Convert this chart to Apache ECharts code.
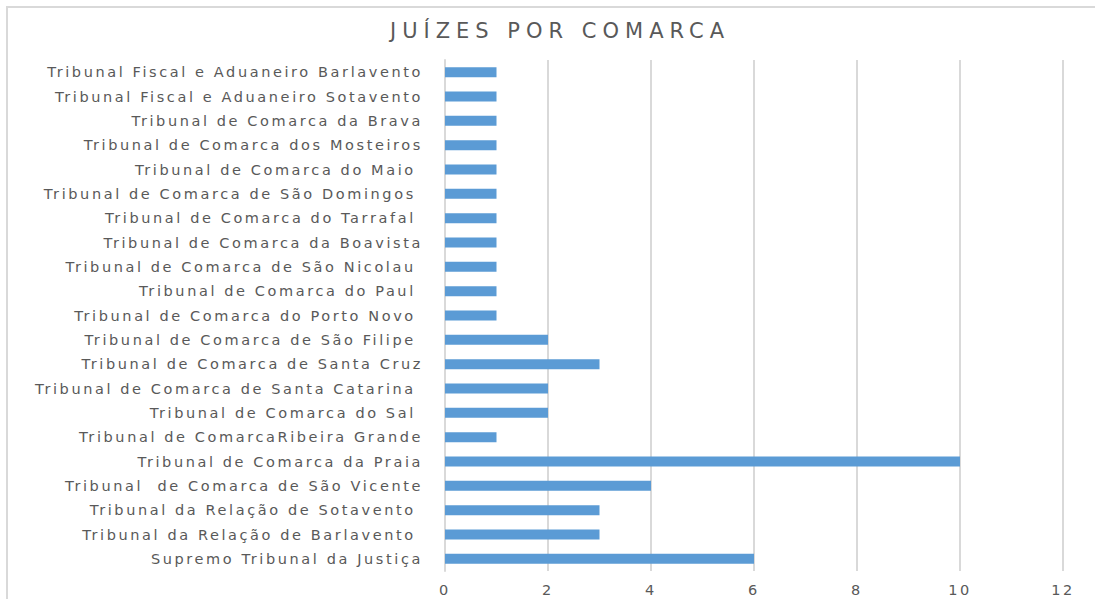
<!DOCTYPE html>
<html>
<head>
<meta charset="utf-8">
<script src="https://cdn.jsdelivr.net/npm/echarts@6/dist/echarts.min.js"></script>
<style>
  html, body { margin: 0; padding: 0; background: #fff; }
  #chart { width: 1095px; height: 599px; }
  /* the reference text is stretched wide, so space the letters out */
  #chart svg text { letter-spacing: 2.6px; }
</style>
</head>
<body>
<div id="chart"></div>
<script>
// categories listed bottom -> top (category y axis starts at the bottom)
const courts = [
  "Supremo Tribunal da Justiça",
  "Tribunal da Relação de Barlavento ",
  "Tribunal da Relação de Sotavento ",
  "Tribunal  de Comarca de São Vicente",
  "Tribunal de Comarca da Praia",
  "Tribunal de ComarcaRibeira Grande",
  "Tribunal de Comarca do Sal ",
  "Tribunal de Comarca de Santa Catarina ",
  "Tribunal de Comarca de Santa Cruz",
  "Tribunal de Comarca de São Filipe ",
  "Tribunal de Comarca do Porto Novo ",
  "Tribunal de Comarca do Paul ",
  "Tribunal de Comarca de São Nicolau ",
  "Tribunal de Comarca da Boavista",
  "Tribunal de Comarca do Tarrafal ",
  "Tribunal de Comarca de São Domingos ",
  "Tribunal de Comarca do Maio ",
  "Tribunal de Comarca dos Mosteiros",
  "Tribunal de Comarca da Brava",
  "Tribunal Fiscal e Aduaneiro Sotavento",
  "Tribunal Fiscal e Aduaneiro Barlavento"
];
const judges = [6, 3, 3, 4, 10, 1, 2, 2, 3, 2, 1, 1, 1, 1, 1, 1, 1, 1, 1, 1, 1];
const xTicks = { min: 0, max: 12, step: 2 };
const titleText = "JUÍZES POR COMARCA";

const chart = echarts.init(document.getElementById("chart"), null, { renderer: "svg" });
const textColor = "#595959";
const lineColor = "#d9d9d9";

chart.setOption({
  animation: false,
  title: {
    text: titleText,
    left: 555,
    textAlign: "center",
    top: 15,
    textStyle: {
      fontFamily: "DejaVu Sans",
      fontSize: 21,
      fontWeight: "normal",
      color: textColor
    }
  },
  graphic: [
    {
      type: "rect",
      shape: { x: 7, y: 7, width: 1200, height: 700 },
      style: { fill: "none", stroke: "#d9d9d9", lineWidth: 2 },
      silent: true
    }
  ],
  grid: {
    left: 445,
    right: 32,
    top: 60,
    bottom: 28,
    containLabel: false
  },
  xAxis: {
    type: "value",
    min: xTicks.min,
    max: xTicks.max,
    interval: xTicks.step,
    axisLine: { show: false },
    axisTick: { show: false },
    axisLabel: {
      margin: 11,
      fontFamily: "DejaVu Sans",
      fontSize: 14.5,
      color: textColor
    },
    splitLine: { lineStyle: { color: lineColor, width: 2 } }
  },
  yAxis: {
    type: "category",
    data: courts,
    axisLine: { show: true, lineStyle: { color: lineColor, width: 2 } },
    axisTick: { show: false },
    axisLabel: {
      margin: 22,
      fontFamily: "DejaVu Sans",
      fontSize: 14.5,
      color: textColor
    }
  },
  series: [
    {
      type: "bar",
      data: judges,
      barWidth: 10,
      itemStyle: { color: "#5b9bd5" }
    }
  ]
});

// wider spacing for the title
function spaceTitle() {
  document.querySelectorAll("#chart svg text").forEach(t => {
    if (t.textContent === titleText) t.style.letterSpacing = "6px";
  });
}
spaceTitle();
chart.on("finished", spaceTitle);
</script>
</body>
</html>
